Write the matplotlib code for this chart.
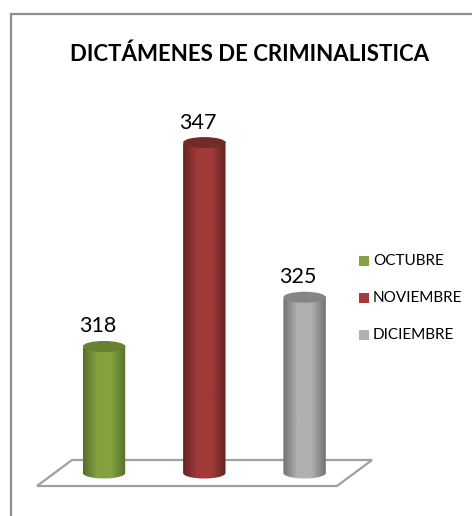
#!/usr/bin/env python3

import matplotlib
matplotlib.use("Agg")
import matplotlib.pyplot as plt
import numpy as np
from matplotlib.patches import Ellipse, PathPatch, Polygon, Rectangle
from matplotlib.path import Path

W, H = 472, 516

months = ["OCTUBRE", "NOVIEMBRE", "DICIEMBRE"]
values = [318, 347, 325]
center_colors = ["#83A23F", "#A03B39", "#B0B0B0"]
edge_colors = ["#566E2A", "#642322", "#727272"]
top_colors = ["#66812F", "#732B2A", "#858585"]

plt.rcParams["font.family"] = ["Lato", "DejaVu Sans"]

fig = plt.figure(figsize=(W / 100, H / 100), dpi=100)

# Pixel axes for the frame, base plate, title and legend
ax_px = fig.add_axes([0, 0, 1, 1])
ax_px.set_xlim(0, W)
ax_px.set_ylim(H, 0)
ax_px.axis("off")

ax_px.plot([11, 11, W], [H, 14, 14], color="#8E8E8E", linewidth=1.6, solid_joinstyle="miter")
ax_px.add_patch(Polygon([(72, 460), (372, 460), (337, 486), (37, 486)], closed=True,
                        fill=False, edgecolor="#A0A0A0", linewidth=1.6))

ax_px.text(249.5, 54.5, "DICTÁMENES DE CRIMINALISTICA", fontsize=16, fontweight="bold",
           ha="center", va="center", color="black")

legend_y = [261, 298, 335]
for name, color, ly in zip(months, center_colors, legend_y):
    ax_px.add_patch(Rectangle((359, ly - 5), 10, 10, facecolor=color, edgecolor="none"))
    ax_px.text(373, ly, name, fontsize=11, ha="left", va="center", color="black")

# Data axes: the bars stand on y=300, one category every 100 px
ax = fig.add_axes([0, 0, 1, 1], facecolor="none")
px_per_cat = 100.3
px_per_unit = 7.03
xlim = (-104 / px_per_cat, (W - 104) / px_per_cat)
ylim = (300 - (H - 473) / px_per_unit, 300 + 473 / px_per_unit)
ax.set_xlim(xlim)
ax.set_ylim(ylim)
ax.axis("off")

half_w = 21.2 / px_per_cat
ry = 5.5 / px_per_unit
tilt = 2.5 / px_per_unit  # the tops lean up slightly to the right

for i, (val, c_mid, c_edge, c_top) in enumerate(zip(values, center_colors, edge_colors, top_colors)):
    t = np.linspace(np.pi, 2 * np.pi, 40)
    bottom_x = i + half_w * np.cos(t)
    bottom_y = 300 + ry * np.sin(t)
    top_x = [i + half_w, i - half_w]
    top_y = [val + tilt / 2, val - tilt / 2]
    verts = list(zip(bottom_x, bottom_y)) + list(zip(top_x, top_y)) + [(bottom_x[0], bottom_y[0])]
    codes = [Path.MOVETO] + [Path.LINETO] * (len(verts) - 2) + [Path.CLOSEPOLY]
    body = PathPatch(Path(verts, codes), facecolor="none", edgecolor="none")
    ax.add_patch(body)

    # Horizontal shading of the cylinder
    cmap = matplotlib.colors.LinearSegmentedColormap.from_list(
        "shade", [c_edge, c_mid, c_mid, c_edge], N=128)
    img = ax.imshow(np.linspace(0, 1, 128).reshape(1, -1), cmap=cmap, aspect="auto",
                    extent=[i - half_w, i + half_w, 290, val + 2], zorder=2)
    img.set_clip_path(body)

    # Cap, sized in data units so it follows the bar top
    cap = Ellipse((i, val), 2 * half_w, 2 * ry, facecolor=c_top, edgecolor="none", zorder=5)
    ax.add_patch(cap)

    ax.annotate(str(val), (i, val), xytext=(-6.5, 10), textcoords="offset pixels",
                fontsize=15.5, ha="center", va="bottom", color="black", zorder=6)

ax.set_xlim(xlim)
ax.set_ylim(ylim)

fig.savefig("out.png", dpi=100, facecolor="white")
plt.close(fig)
